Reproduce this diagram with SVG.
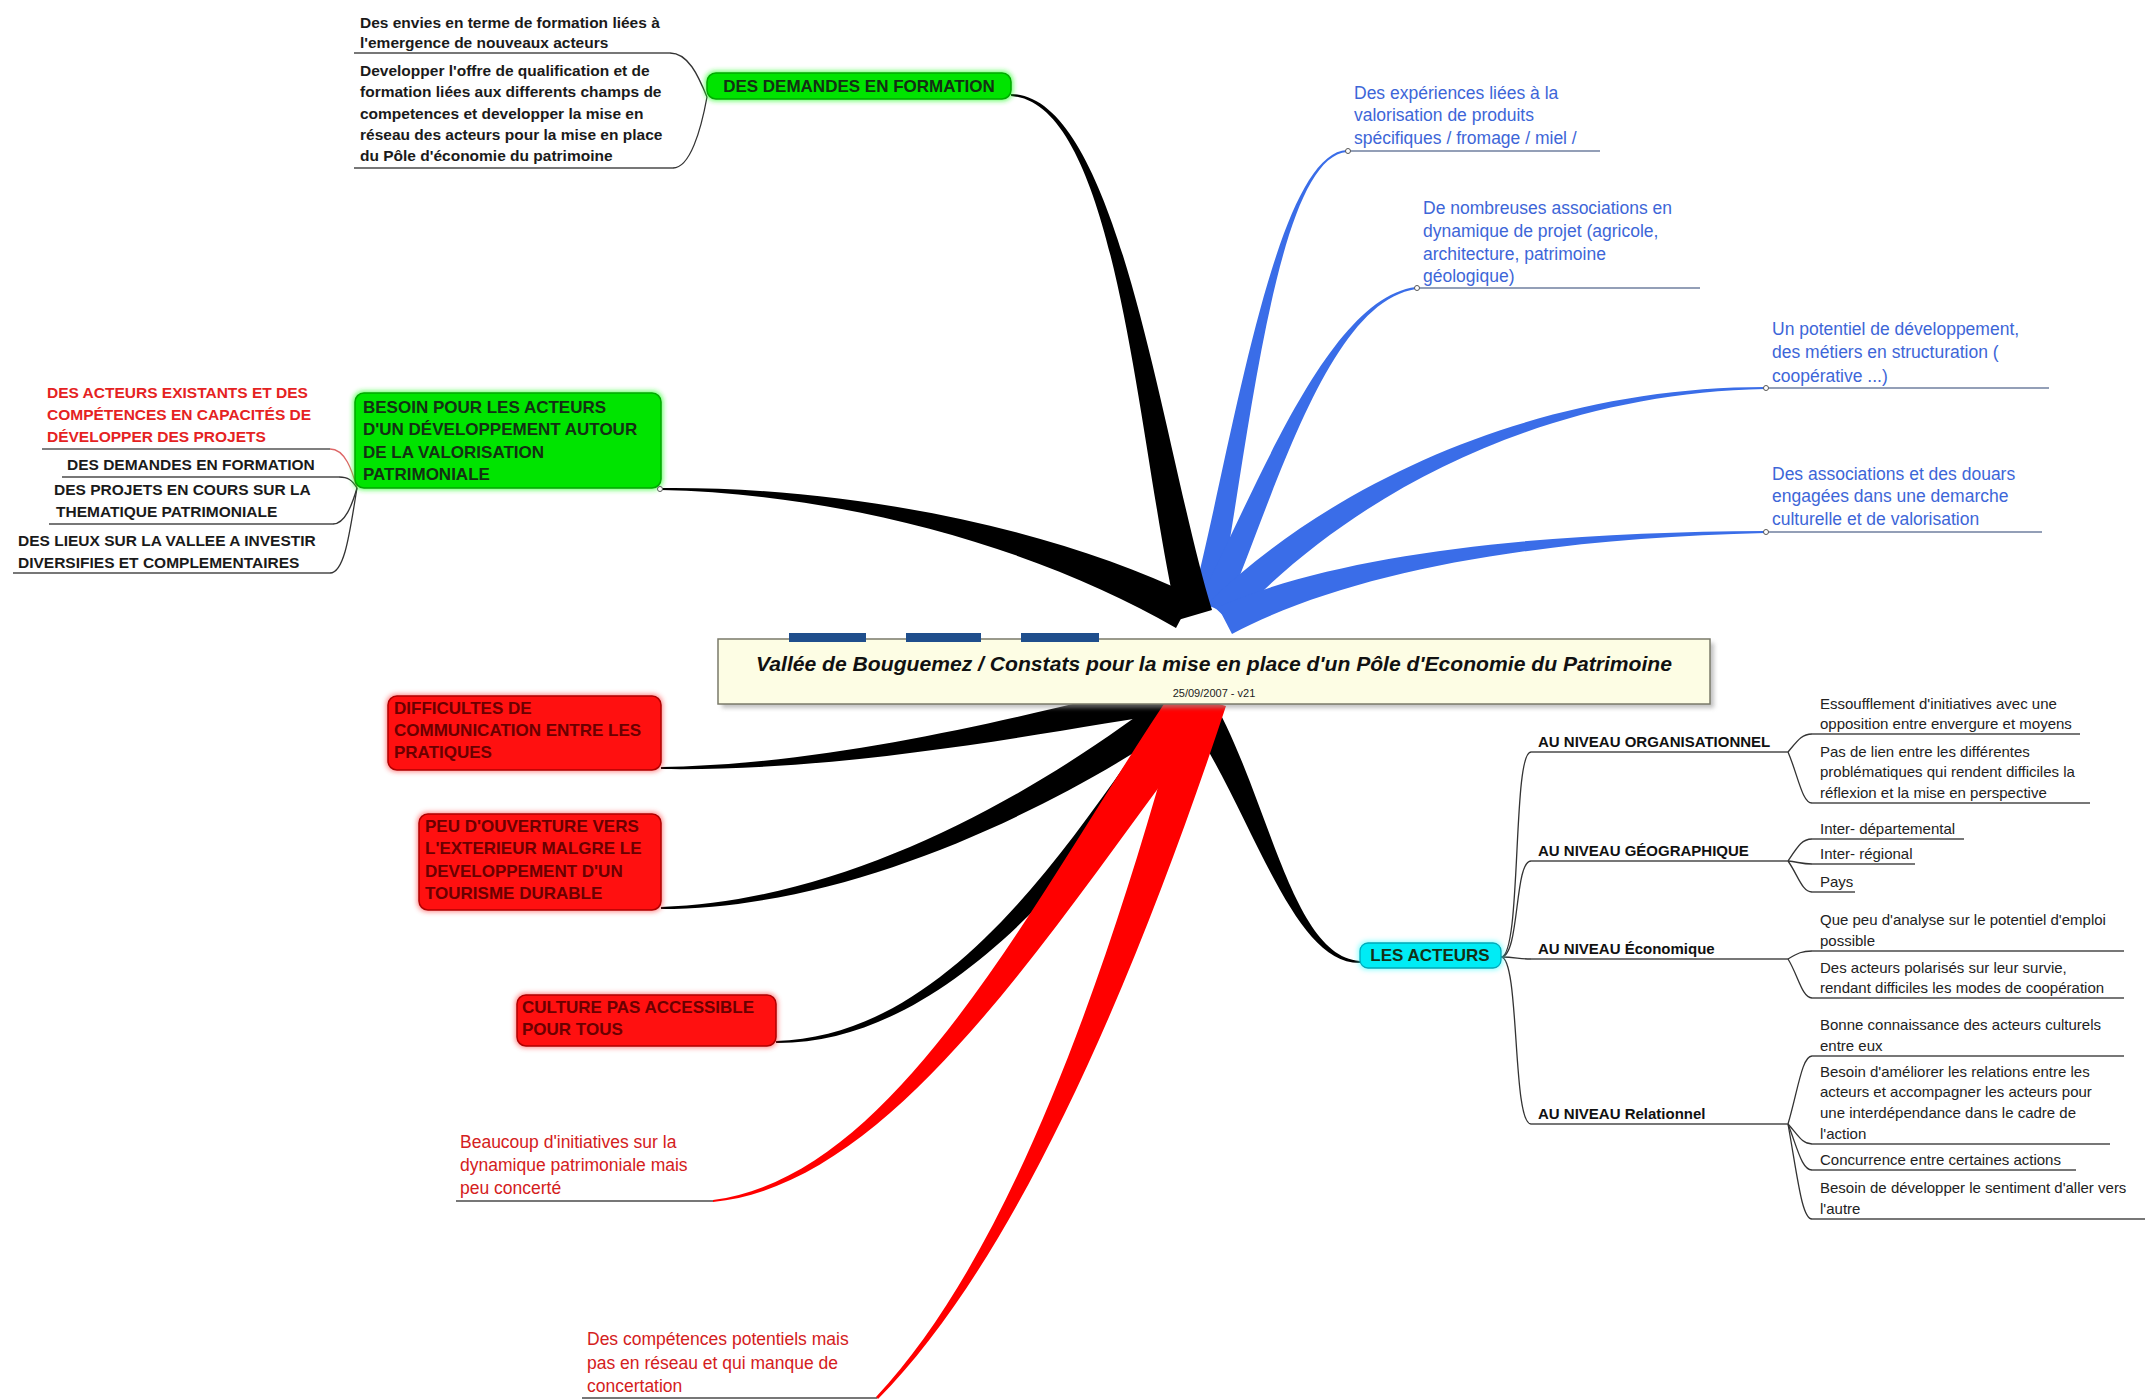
<svg xmlns="http://www.w3.org/2000/svg" width="2149" height="1400" viewBox="0 0 2149 1400">
<defs>
<filter id="blur" x="-10%" y="-30%" width="120%" height="160%"><feGaussianBlur stdDeviation="2.5"/></filter>
<filter id="shadow" x="-5%" y="-20%" width="110%" height="150%"><feGaussianBlur stdDeviation="2"/></filter>
</defs>
<style>
text{font-family:"Liberation Sans",Arial,sans-serif}
.tb{font-size:15.5px;font-weight:bold;fill:#1a1a1a}
.tc{font-size:15.5px;font-weight:bold;fill:#1a1a1a}
.tcr{font-size:15.5px;font-weight:bold;fill:#e52222}
.tblue{font-size:17.5px;fill:#3d66d8}
.tred{font-size:17.5px;fill:#d42020}
.tlvl{font-size:15px;font-weight:bold;fill:#111}
.tleaf{font-size:15px;fill:#222}
.tnode{font-size:17px;font-weight:bold;fill:#143014}
.trnode{font-size:17px;font-weight:bold;fill:#6a0000}
.ul{stroke:#4a4a4a;stroke-width:1.4;fill:none}
.ulb{stroke:#6f7f9f;stroke-width:1.4;fill:none}
.ulr{stroke:#555;stroke-width:1.4;fill:none}
.thin{stroke:#333;stroke-width:1.3;fill:none}
.thinr{stroke:#d66;stroke-width:1.3;fill:none}
.blk{fill:#000}
.blu{fill:#3a6de8}
.red{fill:#f00}
.dot{fill:#fff;stroke:#555;stroke-width:1}
.green{fill:#00e400;stroke:#00a800;stroke-width:1.5}
.greeng{fill:#20ff20;opacity:0.7;filter:url(#blur)}
.rednode{fill:#ff1010;stroke:#b00000;stroke-width:1.5}
.redg{fill:#ff4040;opacity:0.6;filter:url(#blur)}
</style>
<rect width="2149" height="1400" fill="#fff"/>

<g id="connectors">
<!-- blue branches -->
<path class="blu" d="M1218,608 C1248,452 1275,157 1347,152 L1347,150 C1275,153 1232,448 1192,602 Z"/>
<path class="blu" d="M1225,613 C1278,484 1330,302 1416,289 L1416,287 C1330,298 1262,476 1199,601 Z"/>
<path class="blu" d="M1231,623 C1357,487 1550,393 1765,389 L1765,387 C1550,387 1343,473 1209,602 Z"/>
<path class="blu" d="M1232,634 C1354,569 1550,538 1765,533 L1765,531 C1550,532 1346,551 1218,607 Z"/>
<!-- black branches -->
<path class="blk" d="M1212,610 C1162,447 1120,96 1011,94 L1011,96 C1120,104 1138,453 1178,620 Z"/>
<path class="blk" d="M1193,596 C1056,529 850,486 661,488 L661,490 C850,494 1044,551 1176,628 Z"/>
<path class="blk" d="M1182,709 C1251,806 1290,964 1360,963 L1360,961 C1290,956 1269,794 1208,691 Z"/>
<path class="blk" d="M1177,679 C1048,709 850,764 661,767 L661,769 C850,772 1052,731 1183,711 Z"/>
<path class="blk" d="M1175,687 C1043,791 850,901 661,907 L661,909 C850,909 1057,809 1195,713 Z"/>
<path class="blk" d="M1177,690 C1071,843 950,1036 776,1041 L776,1043 C950,1044 1089,856 1203,709 Z"/>
<!-- red branches -->
<path class="red" d="M1176,686 C1037,891 900,1176 713,1200 L713,1202 C900,1184 1063,909 1214,714 Z"/>
<path class="red" d="M1184,694 C1116,946 1017,1247 876,1397 L878,1399 C1023,1253 1144,954 1226,706 Z"/>

<!-- DEMANDES children -->
<path class="thin" d="M670,53 C688,53 698,75 707,97"/>
<path class="thin" d="M707,97 C701,130 690,168 673,168"/>
<!-- BESOIN children -->
<path class="thinr" d="M357,488 C352,470 345,449 330,449"/>
<path class="thin" d="M357,488 C352,480 348,477 339,477"/>
<path class="thin" d="M357,488 C352,505 345,524 333,524"/>
<path class="thin" d="M357,488 C350,530 345,573 330,573"/>
<!-- LES ACTEURS children -->
<path class="thin" d="M1501,957 C1522,957 1512,752 1531,752"/>
<path class="thin" d="M1501,957 C1520,957 1514,861 1531,861"/>
<path class="thin" d="M1501,957 C1516,957 1518,959 1531,959"/>
<path class="thin" d="M1501,957 C1520,957 1512,1124 1531,1124"/>
<!-- level leaves -->
<path class="thin" d="M1788,752 C1798,740 1802,734 1812,734"/>
<path class="thin" d="M1788,752 C1798,775 1802,803 1812,803"/>
<path class="thin" d="M1788,861 C1798,846 1802,839 1812,839"/>
<path class="thin" d="M1788,861 C1798,862 1802,864 1812,864"/>
<path class="thin" d="M1788,861 C1798,875 1802,892 1812,892"/>
<path class="thin" d="M1788,959 C1798,953 1802,951 1812,951"/>
<path class="thin" d="M1788,959 C1798,975 1802,998 1812,998"/>
<path class="thin" d="M1788,1124 C1798,1090 1802,1056 1812,1056"/>
<path class="thin" d="M1788,1124 C1798,1135 1802,1144 1812,1144"/>
<path class="thin" d="M1788,1124 C1798,1150 1802,1170 1812,1170"/>
<path class="thin" d="M1788,1124 C1798,1180 1802,1219 1812,1219"/>
</g>

<g id="n-central">
<rect x="722" y="643" width="992" height="65" fill="#999" filter="url(#shadow)" opacity="0.6"/>
<rect x="718" y="639" width="992" height="65" fill="#fdfde4" stroke="#7a7a6a" stroke-width="1.5"/>
<rect x="789" y="633" width="77" height="9" fill="#1f4e8c"/>
<rect x="906" y="633" width="75" height="9" fill="#1f4e8c"/>
<rect x="1021" y="633" width="78" height="9" fill="#1f4e8c"/>
<text x="1214" y="671" text-anchor="middle" font-size="21" font-weight="bold" font-style="italic" fill="#111" textLength="916" lengthAdjust="spacingAndGlyphs">Vallée de Bouguemez / Constats pour la mise en place d'un Pôle d'Economie du Patrimoine</text>
<text x="1214" y="697" text-anchor="middle" font-size="11" fill="#222">25/09/2007 - v21</text>
</g>

<g id="n-demandes">
<rect x="705" y="71" width="308" height="30" rx="10" class="greeng"/>
<rect x="707" y="73" width="304" height="26" rx="9" class="green"/>
<text x="859" y="92" text-anchor="middle" class="tnode">DES DEMANDES EN FORMATION</text>
</g>
<g id="l-envies">
<text class="tb" x="360"><tspan x="360" y="28">Des envies en terme de formation liées à</tspan><tspan x="360" y="48">l'emergence de nouveaux acteurs</tspan></text>
<path class="ul" d="M354,53 H670"/>
</g>
<g id="l-developper">
<text class="tb"><tspan x="360" y="76">Developper l'offre de qualification et de</tspan><tspan x="360" y="97">formation liées aux differents champs de</tspan><tspan x="360" y="119">competences et developper la mise en</tspan><tspan x="360" y="140">réseau des acteurs pour la mise en place</tspan><tspan x="360" y="161">du Pôle d'économie du patrimoine</tspan></text>
<path class="ul" d="M354,168 H673"/>
</g>

<g id="n-besoin">
<rect x="353" y="391" width="310" height="99" rx="10" class="greeng"/>
<rect x="355" y="393" width="306" height="95" rx="9" class="green"/>
<text class="tnode"><tspan x="363" y="413">BESOIN POUR LES ACTEURS</tspan><tspan x="363" y="435">D'UN DÉVELOPPEMENT AUTOUR</tspan><tspan x="363" y="458">DE LA VALORISATION</tspan><tspan x="363" y="480">PATRIMONIALE</tspan></text>
<circle class="dot" cx="660" cy="489" r="2.5"/>
</g>
<g id="l-acteurs-existants">
<text class="tcr"><tspan x="47" y="398">DES ACTEURS EXISTANTS ET DES</tspan><tspan x="47" y="420">COMPÉTENCES EN CAPACITÉS DE</tspan><tspan x="47" y="442">DÉVELOPPER DES PROJETS</tspan></text>
<path class="ulr" d="M42,449 H330"/>
</g>
<g id="l-demandes2">
<text class="tc" x="67" y="470">DES DEMANDES EN FORMATION</text>
<path class="ul" d="M62,477 H339"/>
</g>
<g id="l-projets">
<text class="tc"><tspan x="54" y="495">DES PROJETS EN COURS SUR LA</tspan><tspan x="56" y="517">THEMATIQUE PATRIMONIALE</tspan></text>
<path class="ul" d="M49,524 H333"/>
</g>
<g id="l-lieux">
<text class="tc"><tspan x="18" y="546">DES LIEUX SUR LA VALLEE A INVESTIR</tspan><tspan x="18" y="568">DIVERSIFIES ET COMPLEMENTAIRES</tspan></text>
<path class="ul" d="M13,573 H330"/>
</g>

<g id="b-experiences">
<text class="tblue"><tspan x="1354" y="99">Des expériences liées à la</tspan><tspan x="1354" y="121">valorisation de produits</tspan><tspan x="1354" y="144">spécifiques / fromage / miel /</tspan></text>
<path class="ulb" d="M1347,151 H1600"/>
<circle class="dot" cx="1348" cy="151" r="2.5"/>
</g>
<g id="b-associations">
<text class="tblue"><tspan x="1423" y="214">De nombreuses associations en</tspan><tspan x="1423" y="237">dynamique de projet (agricole,</tspan><tspan x="1423" y="260">architecture, patrimoine</tspan><tspan x="1423" y="282">géologique)</tspan></text>
<path class="ulb" d="M1416,288 H1700"/>
<circle class="dot" cx="1417" cy="288" r="2.5"/>
</g>
<g id="b-potentiel">
<text class="tblue"><tspan x="1772" y="335">Un potentiel de développement,</tspan><tspan x="1772" y="358">des métiers en structuration (</tspan><tspan x="1772" y="382">coopérative ...)</tspan></text>
<path class="ulb" d="M1765,388 H2049"/>
<circle class="dot" cx="1766" cy="388" r="2.5"/>
</g>
<g id="b-douars">
<text class="tblue"><tspan x="1772" y="480">Des associations et des douars</tspan><tspan x="1772" y="502">engagées dans une demarche</tspan><tspan x="1772" y="525">culturelle et de valorisation</tspan></text>
<path class="ulb" d="M1765,532 H2042"/>
<circle class="dot" cx="1766" cy="532" r="2.5"/>
</g>

<g id="n-difficultes">
<rect x="386" y="694" width="277" height="78" rx="10" class="redg"/>
<rect x="388" y="696" width="273" height="74" rx="9" class="rednode"/>
<text class="trnode"><tspan x="394" y="714">DIFFICULTES DE</tspan><tspan x="394" y="736">COMMUNICATION ENTRE LES</tspan><tspan x="394" y="758">PRATIQUES</tspan></text>
</g>
<g id="n-ouverture">
<rect x="417" y="812" width="246" height="100" rx="10" class="redg"/>
<rect x="419" y="814" width="242" height="96" rx="9" class="rednode"/>
<text class="trnode"><tspan x="425" y="832">PEU D'OUVERTURE VERS</tspan><tspan x="425" y="854">L'EXTERIEUR MALGRE LE</tspan><tspan x="425" y="877">DEVELOPPEMENT D'UN</tspan><tspan x="425" y="899">TOURISME DURABLE</tspan></text>
</g>
<g id="n-culture">
<rect x="515" y="993" width="263" height="55" rx="10" class="redg"/>
<rect x="517" y="995" width="259" height="51" rx="9" class="rednode"/>
<text class="trnode"><tspan x="522" y="1013">CULTURE PAS ACCESSIBLE</tspan><tspan x="522" y="1035">POUR TOUS</tspan></text>
</g>
<g id="r-beaucoup">
<text class="tred"><tspan x="460" y="1148">Beaucoup d'initiatives sur la</tspan><tspan x="460" y="1171">dynamique patrimoniale mais</tspan><tspan x="460" y="1194">peu concerté</tspan></text>
<path class="ul" d="M456,1201 H713"/>
</g>
<g id="r-competences">
<text class="tred"><tspan x="587" y="1345">Des compétences potentiels mais</tspan><tspan x="587" y="1369">pas en réseau et qui manque de</tspan><tspan x="587" y="1392">concertation</tspan></text>
<path class="ul" d="M582,1398 H877"/>
</g>

<g id="n-acteurs">
<rect x="1358" y="941" width="145" height="29" rx="9" fill="#40ffff" opacity="0.6" filter="url(#blur)"/>
<rect x="1360" y="943" width="141" height="25" rx="8" fill="#00ecf5" stroke="#00a8b8" stroke-width="1.3"/>
<text x="1430" y="961" text-anchor="middle" class="tnode">LES ACTEURS</text>
</g>
<g id="lvl-org">
<text class="tlvl" x="1538" y="747">AU NIVEAU ORGANISATIONNEL</text>
<path class="ul" d="M1531,752 H1788"/>
</g>
<g id="lvl-geo">
<text class="tlvl" x="1538" y="856">AU NIVEAU GÉOGRAPHIQUE</text>
<path class="ul" d="M1531,861 H1788"/>
</g>
<g id="lvl-eco">
<text class="tlvl" x="1538" y="954">AU NIVEAU Économique</text>
<path class="ul" d="M1531,959 H1788"/>
</g>
<g id="lvl-rel">
<text class="tlvl" x="1538" y="1119">AU NIVEAU Relationnel</text>
<path class="ul" d="M1531,1124 H1788"/>
</g>

<g id="leaf-org1"><text class="tleaf"><tspan x="1820" y="709">Essoufflement d'initiatives avec une</tspan><tspan x="1820" y="729">opposition entre envergure et moyens</tspan></text><path class="ul" d="M1812,734 H2080"/></g>
<g id="leaf-org2"><text class="tleaf"><tspan x="1820" y="757">Pas de lien entre les différentes</tspan><tspan x="1820" y="777">problématiques qui rendent difficiles la</tspan><tspan x="1820" y="798">réflexion et la mise en perspective</tspan></text><path class="ul" d="M1812,803 H2090"/></g>
<g id="leaf-geo1"><text class="tleaf" x="1820" y="834">Inter- départemental</text><path class="ul" d="M1812,839 H1964"/></g>
<g id="leaf-geo2"><text class="tleaf" x="1820" y="859">Inter- régional</text><path class="ul" d="M1812,864 H1915"/></g>
<g id="leaf-geo3"><text class="tleaf" x="1820" y="887">Pays</text><path class="ul" d="M1812,892 H1855"/></g>
<g id="leaf-eco1"><text class="tleaf"><tspan x="1820" y="925">Que peu d'analyse sur le potentiel d'emploi</tspan><tspan x="1820" y="946">possible</tspan></text><path class="ul" d="M1812,951 H2124"/></g>
<g id="leaf-eco2"><text class="tleaf"><tspan x="1820" y="973">Des acteurs polarisés sur leur survie,</tspan><tspan x="1820" y="993">rendant difficiles les modes de coopération</tspan></text><path class="ul" d="M1812,998 H2124"/></g>
<g id="leaf-rel1"><text class="tleaf"><tspan x="1820" y="1030">Bonne connaissance des acteurs culturels</tspan><tspan x="1820" y="1051">entre eux</tspan></text><path class="ul" d="M1812,1056 H2124"/></g>
<g id="leaf-rel2"><text class="tleaf"><tspan x="1820" y="1077">Besoin d'améliorer les relations entre les</tspan><tspan x="1820" y="1097">acteurs et accompagner les acteurs pour</tspan><tspan x="1820" y="1118">une interdépendance dans le cadre de</tspan><tspan x="1820" y="1139">l'action</tspan></text><path class="ul" d="M1812,1144 H2110"/></g>
<g id="leaf-rel3"><text class="tleaf" x="1820" y="1165">Concurrence entre certaines actions</text><path class="ul" d="M1812,1170 H2076"/></g>
<g id="leaf-rel4"><text class="tleaf"><tspan x="1820" y="1193">Besoin de développer le sentiment d'aller vers</tspan><tspan x="1820" y="1214">l'autre</tspan></text><path class="ul" d="M1812,1219 H2145"/></g>
</svg>
